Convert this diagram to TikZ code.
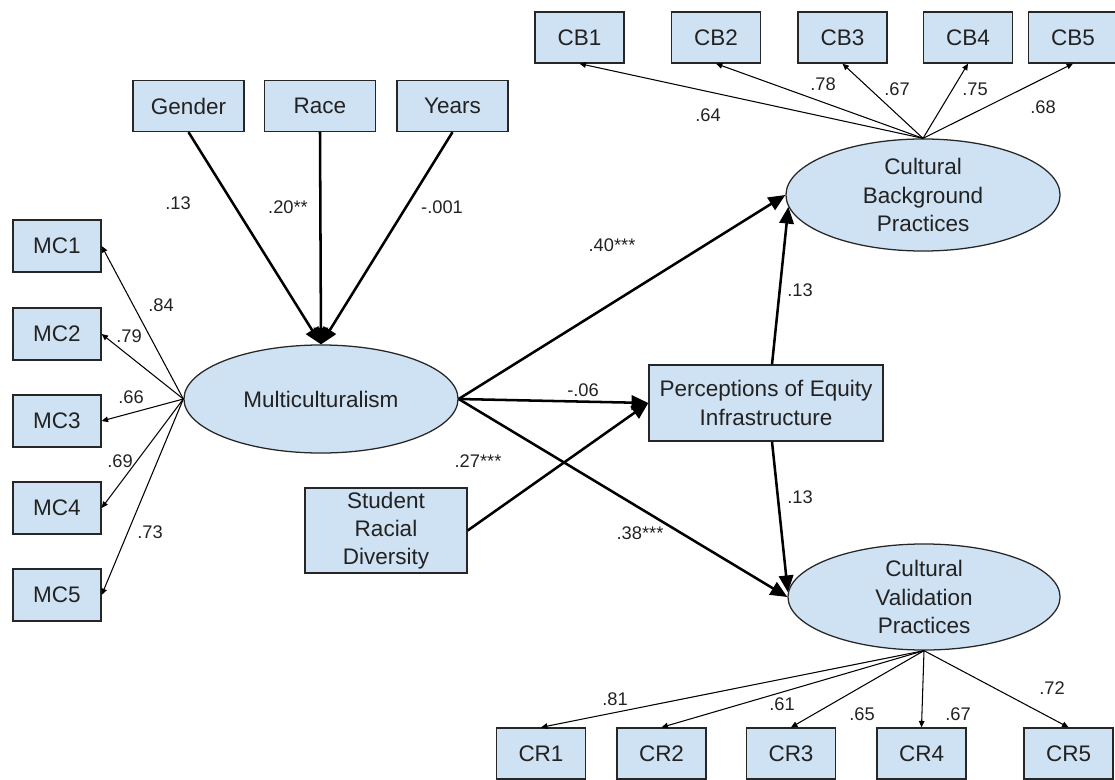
\documentclass[tikz,border=0pt]{standalone}
\usepackage{fontspec}
\setmainfont{Liberation Sans}
\usetikzlibrary{arrows.meta,shapes.geometric}
\definecolor{boxblue}{HTML}{CFE2F3}
\definecolor{inkgray}{HTML}{222222}
\tikzset{
	obsbox/.style={draw=black!85, fill=boxblue, text=inkgray, line width=0.9pt, inner sep=0pt, align=center, font=\fontsize{16}{20}\selectfont},
	latent/.style={ellipse, draw=black!85, fill=boxblue, text=inkgray, line width=0.9pt, inner sep=0pt, align=center, font=\fontsize{16}{20}\selectfont},
	bigarrow/.style={line width=1.8pt, -{Triangle[length=0.42cm, width=0.36cm]}},
	loadarrow/.style={line width=0.75pt, -{Triangle[length=0.16cm, width=0.14cm]}},
	coef/.style={text=inkgray, inner sep=0pt, font=\fontsize{13}{14}\selectfont}
}

\begin{document}
\begin{tikzpicture}[x=0.025cm, y=-0.025cm]
		%%%%% START %%%%%
		
		\useasboundingbox (0, 0) rectangle (1115, 780);
		
		\node[obsbox, minimum width=2.2cm, minimum height=1.3cm] (mc1) at (57, 246) {MC1};
		\node[obsbox, minimum width=2.2cm, minimum height=1.3cm] (mc2) at (57, 334) {MC2};
		\node[obsbox, minimum width=2.2cm, minimum height=1.3cm] (mc3) at (57, 421) {MC3};
		\node[obsbox, minimum width=2.2cm, minimum height=1.3cm] (mc4) at (57, 508) {MC4};
		\node[obsbox, minimum width=2.2cm, minimum height=1.3cm] (mc5) at (57, 595) {MC5};
		
		\node[obsbox, minimum width=2.775cm, minimum height=1.275cm] (gender) at (188.5, 106) {Gender};
		\node[obsbox, minimum width=2.775cm, minimum height=1.275cm] (race) at (320, 106) {Race};
		\node[obsbox, minimum width=2.775cm, minimum height=1.275cm] (years) at (452.5, 106) {Years};
		
		\node[obsbox, minimum width=2.225cm, minimum height=1.275cm] (cb1) at (579.5, 37.5) {CB1};
		\node[obsbox, minimum width=2.225cm, minimum height=1.275cm] (cb2) at (716, 37.5) {CB2};
		\node[obsbox, minimum width=2.225cm, minimum height=1.275cm] (cb3) at (842.5, 37.5) {CB3};
		\node[obsbox, minimum width=2.225cm, minimum height=1.275cm] (cb4) at (968, 37.5) {CB4};
		\node[obsbox, minimum width=2.225cm, minimum height=1.275cm] (cb5) at (1073, 37.5) {CB5};
		
		\node[obsbox, minimum width=2.225cm, minimum height=1.275cm] (cr1) at (541, 753.5) {CR1};
		\node[obsbox, minimum width=2.225cm, minimum height=1.275cm] (cr2) at (661.5, 753.5) {CR2};
		\node[obsbox, minimum width=2.225cm, minimum height=1.275cm] (cr3) at (791, 753.5) {CR3};
		\node[obsbox, minimum width=2.225cm, minimum height=1.275cm] (cr4) at (921.5, 753.5) {CR4};
		\node[obsbox, minimum width=2.225cm, minimum height=1.275cm] (cr5) at (1068.5, 753.5) {CR5};
		
		\node[obsbox, minimum width=5.85cm, minimum height=1.9cm] (pei) at (766, 403) {Perceptions of Equity\\Infrastructure};
		\node[obsbox, minimum width=4.05cm, minimum height=2.125cm] (srd) at (386, 530.5) {Student\\Racial\\Diversity};
		
		\node[latent, minimum width=6.85cm, minimum height=2.7cm] (mult) at (321, 399) {Multiculturalism};
		\node[latent, minimum width=6.85cm, minimum height=2.8cm] (cbp) at (923, 195) {Cultural\\Background\\Practices};
		\node[latent, minimum width=6.8cm, minimum height=2.65cm] (cvp) at (924, 597) {Cultural\\Validation\\Practices};
		
		% loadings of Multiculturalism
		\draw[loadarrow] (mult.west) -- (mc1.east);
		\draw[loadarrow] (mult.west) -- (mc2.east);
		\draw[loadarrow] (mult.west) -- (mc3.east);
		\draw[loadarrow] (mult.west) -- (mc4.east);
		\draw[loadarrow] (mult.west) -- (mc5.east);
		
		\node[coef] (lmc1) at (161, 305) {.84};
		\node[coef] (lmc2) at (129, 336) {.79};
		\node[coef] (lmc3) at (131, 397) {.66};
		\node[coef] (lmc4) at (120, 461) {.69};
		\node[coef] (lmc5) at (150, 532) {.73};
		
		% covariates
		\draw[bigarrow] (gender.south) -- (mult.north);
		\draw[bigarrow] (race.south) -- (mult.north);
		\draw[bigarrow] (years.south) -- (mult.north);
		
		\node[coef] (lgender) at (178, 203) {.13};
		\node[coef] (lrace) at (288, 207) {.20**};
		\node[coef] (lyears) at (442, 207) {-.001};
		
		% structural paths
		\draw[bigarrow] (mult.east) -- (cbp.west);
		\draw[bigarrow] (mult.east) -- (pei.west);
		\draw[bigarrow] (mult.east) -- (cvp.west);
		\draw[bigarrow] (srd.east) -- (pei.west);
		\draw[bigarrow] ([xshift=0.15cm]pei.north) -- (cbp.185);
		\draw[bigarrow] ([xshift=0.15cm]pei.south) -- (cvp.178);
		
		\node[coef] (lcbp) at (612, 245) {.40***};
		\node[coef] (lpei) at (583, 390) {-.06};
		\node[coef] (lsrd) at (478, 461) {.27***};
		\node[coef] (lcvp) at (640, 533) {.38***};
		\node[coef] (lup) at (800, 290) {.13};
		\node[coef] (ldown) at (800, 497) {.13};
		
		% loadings of Cultural Background Practices
		\draw[loadarrow] (cbp.north) -- (cb1.south);
		\draw[loadarrow] (cbp.north) -- (cb2.south);
		\draw[loadarrow] (cbp.north) -- (cb3.south);
		\draw[loadarrow] (cbp.north) -- (cb4.south);
		\draw[loadarrow] (cbp.north) -- (cb5.south);
		
		\node[coef] (lcb1) at (708, 115) {.64};
		\node[coef] (lcb2) at (823, 84) {.78};
		\node[coef] (lcb3) at (897, 89) {.67};
		\node[coef] (lcb4) at (975, 89) {.75};
		\node[coef] (lcb5) at (1043, 107) {.68};
		
		% loadings of Cultural Validation Practices
		\draw[loadarrow] (cvp.south) -- (cr1.north);
		\draw[loadarrow] (cvp.south) -- (cr2.north);
		\draw[loadarrow] (cvp.south) -- (cr3.north);
		\draw[loadarrow] (cvp.south) -- (cr4.north);
		\draw[loadarrow] (cvp.south) -- (cr5.north);
		
		\node[coef] (lcr1) at (615, 699) {.81};
		\node[coef] (lcr2) at (782, 704) {.61};
		\node[coef] (lcr3) at (862, 714) {.65};
		\node[coef] (lcr4) at (958, 714) {.67};
		\node[coef] (lcr5) at (1052, 688) {.72};
		
		%%%%% END %%%%%
	\end{tikzpicture}
\end{document}
